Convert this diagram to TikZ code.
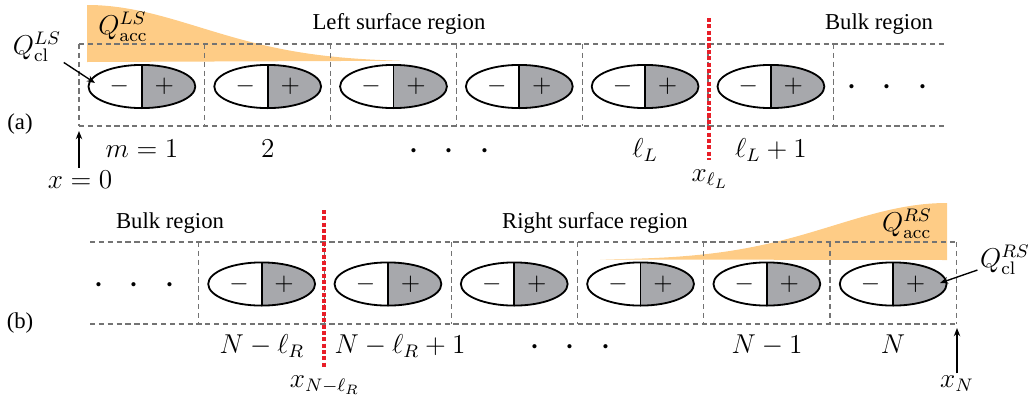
\documentclass[tikz,border=0pt]{standalone}
\usepackage{fontspec}
\newfontfamily\timesfont{Liberation Serif}
\usetikzlibrary{shapes.geometric,arrows.meta,positioning}
\definecolor{accorange}{RGB}{254,204,134}
\definecolor{dipgray}{RGB}{167,168,172}
\definecolor{cellgray}{RGB}{115,115,115}
\definecolor{cutred}{RGB}{232,30,40}
\tikzset{
  dipole/.style={ellipse,draw,line width=0.8pt,minimum width=47pt,minimum height=19pt,inner sep=0pt,
    path picture={
      \fill[dipgray] (path picture bounding box.north) rectangle (path picture bounding box.south east);
      \draw[line width=0.8pt] (path picture bounding box.north) -- (path picture bounding box.south);}},
  sign/.style={font=\fontsize{11}{13}\selectfont,inner sep=0pt},
  cellline/.style={cellgray,line width=0.5pt,dash pattern=on 2.3pt off 1.6pt},
  cutline/.style={cutred,line width=1.5pt,dash pattern=on 1.8pt off 1pt},
  txt/.style={font=\timesfont\fontsize{10}{12}\selectfont},
  qlabel/.style={inner sep=1pt},
  pointer/.style={-{Stealth[length=3.6pt,width=2.8pt]},line width=0.6pt},
  dotsrow/.style={inner sep=0pt,font=\fontsize{17}{20}\selectfont}
}
\newcommand{\threedots}{$\cdot\hskip7pt\cdot\hskip7pt\cdot$}

\begin{document}
\begin{tikzpicture}[x=0.44pt,y=-0.44pt, every node/.style={font=\fontsize{12}{14}\selectfont}]
  \useasboundingbox (0,0) rectangle (1034,403);

  % accumulated charge profiles
  \fill[accorange] (87,62) -- plot[domain=87:400,samples=60]
    (\x,{62-57*exp(-((\x-87)/160)*((\x-87)/160))}) -- cycle;
  \fill[accorange] (947,260) -- plot[domain=947:600,samples=60]
    (\x,{260-57*exp(-((\x-947)/160)*((\x-947)/160))}) -- cycle;

  % (a) cells, left surface
  \draw[cellline] (79,44) -- (945,44) (79,126) -- (945,126);
  \foreach \k in {0,...,6} {
    \draw[cellline] (79+\k*125.8,44) -- (79+\k*125.8,126);
  }
  \foreach \k in {1,...,6} {
    \node[dipole] (da\k) at (79+\k*125.8-62.9,86.5) {};
    \node[sign] at (79+\k*125.8-62.9-22.5,86.5) {$-$};
    \node[sign] at (79+\k*125.8-62.9+22.5,86.5) {$+$};
  }
  \node[dotsrow] (dotsA) at (887,88) {\threedots};

  % (b) cells, right surface
  \draw[cellline] (90,242) -- (956.3,242) (90,324) -- (956.3,324);
  \foreach \k in {0,...,6} {
    \draw[cellline] (198.5+\k*126.3,242) -- (198.5+\k*126.3,324);
  }
  \foreach \k in {1,...,6} {
    \node[dipole] (db\k) at (198.5+\k*126.3-63.15,284) {};
    \node[sign] at (198.5+\k*126.3-63.15-22.5,284) {$-$};
    \node[sign] at (198.5+\k*126.3-63.15+22.5,284) {$+$};
  }
  \node[dotsrow] (dotsB) at (134,286) {\threedots};

  % region borders
  \draw[cutline] (709,18) -- (709,160);
  \draw[cutline] (324,210) -- (324,368);

  % region names
  \node[txt] (lsr) at (399,24) {Left surface region};
  \node[txt] (bulkA) at (879,24) {Bulk region};
  \node[txt] (bulkB) at (170,223) {Bulk region};
  \node[txt] (rsr) at (595,223) {Right surface region};
  \node[txt] (tagA) at (20,124) {(a)};
  \node[txt] (tagB) at (20,323) {(b)};

  % cell indices
  \node[anchor=base] (ma1) at (141.9,157) {$m=1$};
  \node[anchor=base] (ma2) at (267.7,157) {$2$};
  \node[anchor=base,dotsrow] (ma3) at (449,160) {\threedots};
  \node[anchor=base] (ma4) at (645.1,157) {$\ell_L$};
  \node[anchor=base] (ma5) at (770.9,157) {$\ell_L+1$};
  \node[anchor=base] (mb1) at (262,353) {$N-\ell_R$};
  \node[anchor=base] (mb2) at (400,353) {$N-\ell_R+1$};
  \node[anchor=base,dotsrow] (mb3) at (570,356) {\threedots};
  \node[anchor=base] (mb4) at (767,353) {$N-1$};
  \node[anchor=base] (mb5) at (893,353) {$N$};

  % positions
  \node (xlL) at (710,179) {$x_{\ell_L}$};
  \node (xlR) at (325,385) {$x_{N-\ell_R}$};
  \coordinate (originA) at (79,131);
  \node[anchor=base,inner sep=1pt] (xzero) at (80,188) {$x=0$};
  \draw[pointer] (xzero.north -| originA) -- (originA);
  \coordinate (endB) at (957,328);
  \node[inner sep=1pt] (xN) at (957,384) {$x_N$};
  \draw[pointer] (xN.north -| endB) -- (endB);

  % charges
  \node[qlabel] (qaccL) at (123,27) {$Q^{LS}_{\mathrm{acc}}$};
  \node[qlabel] (qaccR) at (907,224) {$Q^{RS}_{\mathrm{acc}}$};
  \node[qlabel] (qclL) at (37,47) {$Q^{LS}_{\mathrm{cl}}$};
  \node[qlabel] (qclR) at (1005,260) {$Q^{RS}_{\mathrm{cl}}$};
  \coordinate (tipL) at (95,83);
  \coordinate (tipR) at (940,283);
  \draw[pointer] (qclL.-30) -- (tipL);
  \draw[pointer] (qclR.200) -- (tipR);
\end{tikzpicture}
\end{document}
